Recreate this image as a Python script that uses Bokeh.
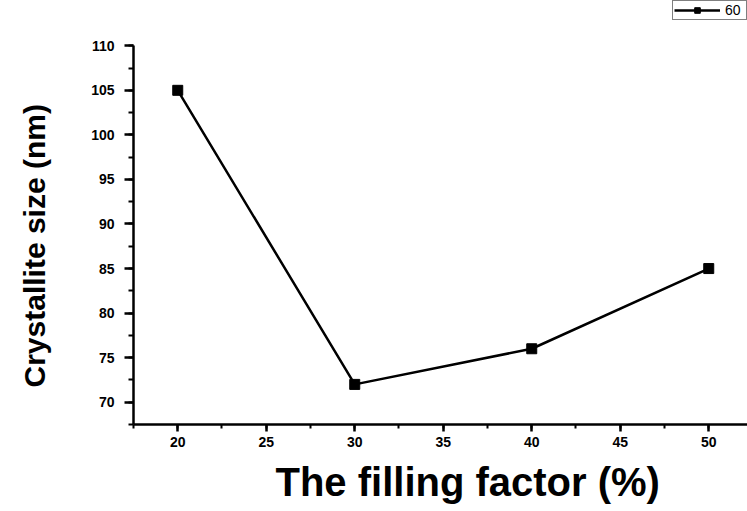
import math
from bokeh.plotting import figure
from bokeh.layouts import row
from bokeh.models import (Range1d, Title, Legend, LegendItem, SingleIntervalTicker,
                          ColumnDataSource)
from bokeh.core.properties import value
from bokeh.embed import file_html
from bokeh.resources import INLINE

# Crystallite size versus filling factor
filling_factor = [20, 30, 40, 50]
crystallite_size = [105, 72, 76, 85]
series_name = "60"
x_title = "The filling factor (%)"
y_title = "Crystallite size (nm)"

FONT = "Liberation Sans"
STRIP_W = 60  # narrow strip at the left that carries the y title

# the frame reaches the top of the canvas so the legend can sit above the
# y axis, whose line is bounded to 67.5..110
p = figure(width=747 - STRIP_W, height=511, output_backend="svg",
           toolbar_location=None,
           x_range=Range1d(17.5, 52.19), y_range=Range1d(67.5, 115.08),
           min_border_left=133 - STRIP_W, min_border_right=0, min_border_top=0,
           min_border_bottom=84)
p.outline_line_color = None
p.xgrid.visible = False
p.ygrid.visible = False
p.background_fill_color = "white"
p.border_fill_color = "white"

src = ColumnDataSource(dict(x=filling_factor, y=crystallite_size))
ln = p.line("x", "y", source=src, line_color="black", line_width=2.5)
pts = p.scatter("x", "y", source=src, marker="square", size=10,
                fill_color="black", line_color="black")

for ax in (p.xaxis[0], p.yaxis[0]):
    ax.axis_line_width = 2.5
    ax.axis_line_color = "black"
    ax.major_tick_line_width = 2.5
    ax.minor_tick_line_width = 2
    ax.major_tick_in = 0
    ax.minor_tick_in = 0
    ax.major_label_text_font = FONT
    ax.major_label_text_font_style = "bold"
    ax.major_label_text_font_size = "14px"
    ax.major_label_text_color = "black"

p.xaxis.ticker = SingleIntervalTicker(interval=5, num_minor_ticks=2)
p.yaxis.ticker = SingleIntervalTicker(interval=5, num_minor_ticks=2)
p.yaxis.bounds = (67.5, 110)
p.xaxis.major_tick_out = 7
p.xaxis.minor_tick_out = 4
p.yaxis.major_tick_out = 9
p.yaxis.minor_tick_out = 5
p.xaxis.major_label_standoff = 5
p.yaxis.major_label_standoff = 10

p.add_layout(Title(text=x_title, text_font=FONT, text_font_style="bold",
                   text_font_size="40px", text_color="black", align="left",
                   offset=142, standoff=16), "below")

legend = Legend(items=[LegendItem(label=series_name, renderers=[ln, pts])],
                location=(539, 404), orientation="vertical",
                border_line_color="black", border_line_width=1,
                background_fill_color="white", padding=1, margin=0,
                spacing=0, glyph_width=46, glyph_height=14, label_height=14,
                label_standoff=5, label_text_font=FONT,
                label_text_font_size="14px", label_text_color="black")
p.add_layout(legend)

# y title strip; its frame is aligned with the main frame (0..427 px)
side = figure(width=STRIP_W, height=511, output_backend="svg",
              toolbar_location=None, x_axis_type=None, y_axis_type=None,
              x_range=Range1d(0, STRIP_W), y_range=Range1d(0, 427),
              min_border=0)
side.outline_line_color = None
side.xgrid.visible = False
side.ygrid.visible = False
side.text(x=[34], y=[427 - 247], text=[y_title], angle=math.pi / 2,
          text_font=value(FONT), text_font_style="bold",
          text_font_size="30px", text_color="black",
          text_align="center", text_baseline="alphabetic")

layout = row(side, p, spacing=0)
open("out.html", "w").write(file_html(layout, INLINE))
